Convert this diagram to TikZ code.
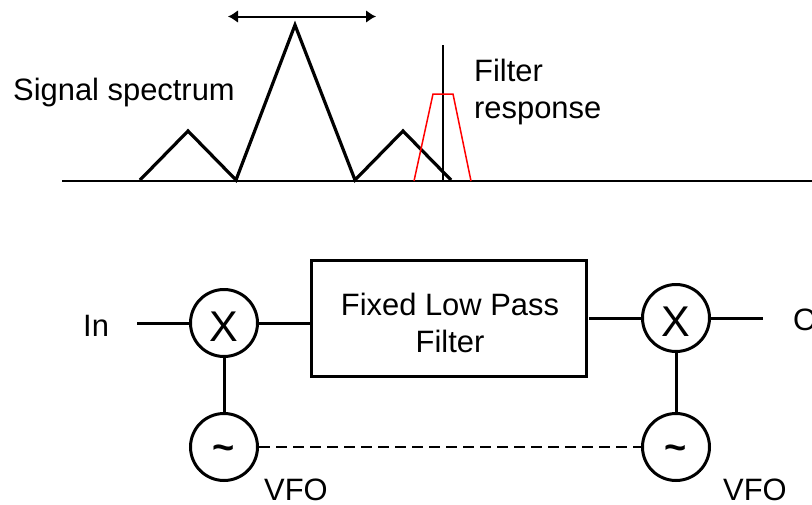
\documentclass[tikz,border=0pt]{standalone}
\usepackage{fontspec}
\setmainfont{Liberation Sans}
\usetikzlibrary{arrows.meta}
\tikzset{
  lbl/.style={anchor=base west,inner sep=0pt,font=\fontsize{30.9}{36}\selectfont},
  lblc/.style={anchor=base,inner sep=0pt,font=\fontsize{30.9}{36}\selectfont},
  mixer/.style={circle,draw=black,line width=3pt,minimum size=67pt,inner sep=0pt,font=\fontsize{43}{43}\selectfont},
  osc/.style={circle,draw=black,line width=3pt,minimum size=67pt,inner sep=0pt,font=\bfseries\fontsize{38}{38}\selectfont},
  filterbox/.style={draw=black,line width=3pt,inner sep=0pt,minimum width=275pt,minimum height=116pt},
  wire/.style={line width=3pt,black},
  spec/.style={line width=3.2pt,black,line join=miter},
  axisline/.style={line width=2.2pt,black},
}
\begin{document}
\begin{tikzpicture}[x=1pt,y=-1pt]
\useasboundingbox (0,0) rectangle (812,504);
\clip (0,0) rectangle (812,504);
% spectrum
\coordinate (axL) at (62,181);
\coordinate (axR) at (812,181);
\coordinate (arL) at (228,16.5);
\coordinate (arR) at (376,16.5);
\coordinate (mkT) at (443,45);
\coordinate (mkB) at (443,181);
\draw[axisline] (axL) -- (axR);
\draw[spec] (140,180) -- (188,131) -- (236,180) -- (295,25) -- (355,180) -- (403,131) -- (451,180);
\draw[line width=1.2pt,black] (mkT) -- (mkB);
\draw[line width=1.5pt,red] (414,181) -- (433,94) -- (453,94) -- (471,181);
\draw[line width=2pt,black,{Latex[length=10pt,width=13pt]}-{Latex[length=10pt,width=13pt]}] (arL) -- (arR);
\node[lbl] (sig) at (13,100) {Signal spectrum};
\node[lbl] (fil) at (474,81) {Filter};
\node[lbl] (res) at (474,118) {response};
% block diagram
\node[mixer] (m1) at (224,323) {\raisebox{-18.4pt}[0pt][0pt]{X}};
\node[mixer] (m2) at (676,318) {\raisebox{-18.4pt}[0pt][0pt]{X}};
\node[osc] (o1) at (224,447) {\raisebox{-13pt}[0pt][0pt]{\char`~}};
\node[osc] (o2) at (676,447) {\raisebox{-13pt}[0pt][0pt]{\char`~}};
\node[filterbox] (fb) at (448.5,318.7) {};
\node[lblc] (t1) at (450,315) {Fixed Low Pass};
\node[lblc] (t2) at (450,352) {Filter};
\node[lbl] (in) at (83,336) {In};
\node[lbl] (out) at (793,330) {O};
\node[lbl] (v1) at (264,500) {VFO};
\node[lbl] (v2) at (723,500) {VFO};
\coordinate (inE) at (137,323);
\coordinate (outE) at (763,318);
\coordinate (fbE) at (589,318);
\draw[wire] (inE) -- (m1);
\draw[wire] (m1) -- (fb.west |- m1);
\draw[wire] (fbE) -- (m2);
\draw[wire] (m2) -- (outE);
\draw[wire] (m1) -- (o1);
\draw[wire] (m2) -- (o2);
\draw[line width=1.1pt,black,dash pattern=on 11pt off 6pt] (o1) -- (o2);
\end{tikzpicture}
\end{document}
